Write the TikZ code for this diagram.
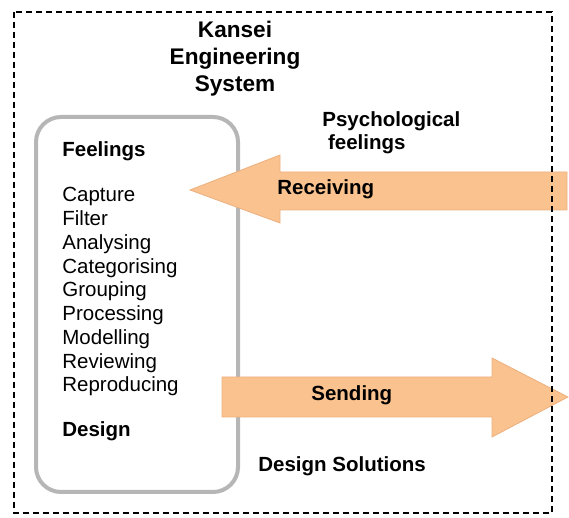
\documentclass[tikz,border=0pt]{standalone}
\usepackage{fontspec}
\setmainfont{Liberation Sans}
\usepackage{xcolor}
\usetikzlibrary{arrows.meta}
\definecolor{peach}{RGB}{250,194,142}
\definecolor{peachedge}{RGB}{236,176,126}
\definecolor{boxgray}{RGB}{182,182,182}
\tikzset{
  word/.style={inner sep=0pt,anchor=base west,font=\fontsize{10.25}{11.9}\selectfont},
  head/.style={word,font=\fontsize{10.25}{11.5}\selectfont\bfseries},
  flow/.style={fill=peach,draw=peachedge,line width=0.4pt},
}
\begin{document}
\begin{tikzpicture}[x=0.5pt,y=-0.5pt]
\useasboundingbox (0,0) rectangle (569,518);
%\draw[help lines,step=50](0,0)grid(569,518);
% box of the steps
\draw[boxgray,line width=2pt,rounded corners=12.5pt](36,117) rectangle (238,492);
% the two big arrows
\draw[flow](567,172)--(280,172)--(280,155)--(190,190)--(280,223)--(280,210)--(567,210)--cycle;
\draw[flow](222,377)--(492,377)--(492,358)--(568,397)--(492,437)--(492,417)--(222,417)--cycle;
\node[head,anchor=base,align=center,font=\fontsize{11.3}{13.5}\selectfont\bfseries] (kes) at (235,92) {Kansei\\Engineering\\System};
\node[head,align=left] (psy) at (322,150) {Psychological\\\ feelings};
\node[head] (feel) at (62,157) {Feelings};
\foreach \w [count=\i] in {Capture,Filter,Analysing,Categorising,Grouping,Processing,Modelling,Reviewing,Reproducing}
  \node[word] (step\i) at (62,{178.25+23.75*\i}) {\w};
\node[head] (des) at (62,437) {Design};
\node[head] (recv) at (277,195) {Receiving};
\node[head] (send) at (311,401) {Sending};
\node[head] (sol) at (258,472) {Design Solutions};
% system border, on top of the arrows
\draw[line width=0.6pt,dash pattern=on 3pt off 2pt](14,12) rectangle (552,513);
\end{tikzpicture}
\end{document}
